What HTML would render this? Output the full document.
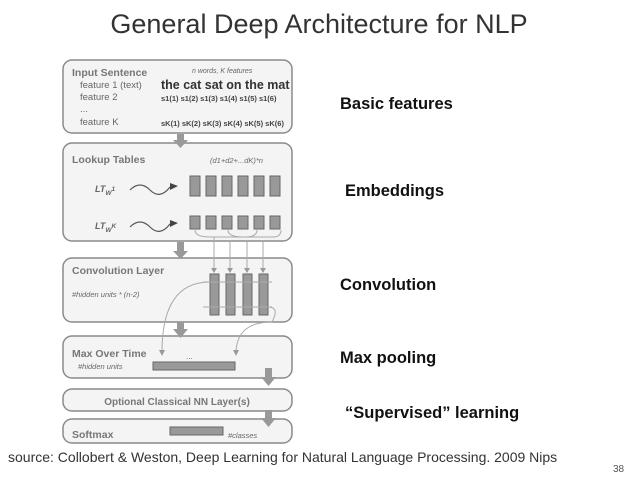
<!DOCTYPE html>
<html><head><style>
body{margin:0;width:638px;height:479px;background:#fff;overflow:hidden;font-family:"Liberation Sans",sans-serif}
</style></head><body>
<svg width="638" height="479" xmlns="http://www.w3.org/2000/svg" font-family="Liberation Sans, sans-serif">
<text x="319" y="33" font-size="27" text-anchor="middle" fill="#333">General Deep Architecture for NLP</text>
<g fill="#f4f4f4" stroke="#8a8a8a" stroke-width="1.5">
<rect x="63" y="60" width="229" height="73" rx="9"/>
<rect x="63" y="143" width="229" height="98" rx="9"/>
<rect x="63" y="258" width="229" height="64" rx="9"/>
<rect x="63" y="336" width="229" height="42" rx="9"/>
<rect x="63" y="389" width="229" height="22" rx="9"/>
<rect x="63" y="419" width="229" height="24" rx="9"/>
</g>
<g fill="#999">
<rect x="177" y="134" width="7" height="7"/><polygon points="173,140 188,140 180.5,148"/>
<rect x="177" y="242" width="7" height="10"/><polygon points="173,251 188,251 180.5,259"/>
<rect x="177" y="322" width="7" height="8"/><polygon points="173,329 188,329 180.5,338"/>
<rect x="265" y="368" width="7" height="10"/><polygon points="261,377 276,377 268.5,386"/>
<rect x="265" y="410" width="7" height="10"/><polygon points="261,418 276,418 268.5,427"/>
</g>
<g fill="#777" font-weight="bold">
<text x="72" y="76" font-size="10.5">Input Sentence</text>
<text x="72" y="163" font-size="10.5">Lookup Tables</text>
<text x="72" y="274" font-size="10.5">Convolution Layer</text>
<text x="72" y="357" font-size="10.5">Max Over Time</text>
<text x="177" y="405" font-size="10" text-anchor="middle">Optional Classical NN Layer(s)</text>
<text x="72" y="438" font-size="10.5">Softmax</text>
</g>
<g fill="#666" font-size="9.5">
<text x="80" y="88">feature 1 (text)</text>
<text x="80" y="100">feature 2</text>
<text x="80" y="112">...</text>
<text x="80" y="125">feature K</text>
<text x="192" y="73" font-style="italic" font-size="7">n words, K features</text>
<text x="161" y="89" font-size="12.5" font-weight="bold" fill="#333">the cat sat on the mat</text>
<text x="161" y="101" font-size="7.5" font-weight="bold" fill="#444">s1(1) s1(2) s1(3) s1(4) s1(5) s1(6)</text>
<text x="161" y="126" font-size="7.5" font-weight="bold" fill="#444">sK(1) sK(2) sK(3) sK(4) sK(5) sK(6)</text>
<text x="210" y="163" font-style="italic" font-size="7.5">(d1+d2+...dK)*n</text>
<text x="95" y="192" font-style="italic" font-weight="bold" font-size="9">LT<tspan font-size="6.5" dy="3">W</tspan><tspan font-size="6.5" dy="-4">1</tspan></text>
<text x="95" y="229" font-style="italic" font-weight="bold" font-size="9">LT<tspan font-size="6.5" dy="3">W</tspan><tspan font-size="6.5" dy="-4">K</tspan></text>
<text x="72" y="297" font-style="italic" font-size="7.5">#hidden units * (n-2)</text>
<text x="78" y="369" font-style="italic" font-size="7.5">#hidden units</text>
<text x="228" y="438" font-style="italic" font-size="7.5">#classes</text>
<text x="186" y="359" font-size="8">...</text>
</g>
<g fill="none" stroke="#555" stroke-width="1.2">
<path d="M130,190 q10,-10 20,0 t20,-3"/><path d="M130,227 q10,-10 20,0 t20,-3"/>
</g>
<g fill="#444"><polygon points="170,183 178,186 170,190"/><polygon points="170,220 178,223 170,227"/></g>
<g fill="#999" stroke="#666" stroke-width="1">
<rect x="190" y="176" width="10" height="20"/><rect x="206" y="176" width="10" height="20"/><rect x="222" y="176" width="10" height="20"/><rect x="238" y="176" width="10" height="20"/><rect x="254" y="176" width="10" height="20"/><rect x="270" y="176" width="10" height="20"/>
<rect x="190" y="216" width="10" height="13"/><rect x="206" y="216" width="10" height="13"/><rect x="222" y="216" width="10" height="13"/><rect x="238" y="216" width="10" height="13"/><rect x="254" y="216" width="10" height="13"/><rect x="270" y="216" width="10" height="13"/>
<rect x="210" y="274" width="9" height="41"/><rect x="226" y="274" width="9" height="41"/><rect x="243" y="274" width="9" height="41"/><rect x="259" y="274" width="9" height="41"/>
<rect x="153" y="362" width="82" height="8"/>
<rect x="170" y="427" width="53" height="8"/>
</g>
<g fill="none" stroke="#aaa" stroke-width="1">
<path d="M195,230 q0,7 15,7 h35 q12,0 12,-7"/><path d="M228,230 q0,7 15,7 h30 q8,0 8,-7"/>
<line x1="214" y1="237" x2="214" y2="270"/><line x1="230" y1="240" x2="230" y2="270"/><line x1="247" y1="240" x2="247" y2="270"/><line x1="263" y1="240" x2="263" y2="270"/>
<line x1="203" y1="282" x2="272" y2="282"/><line x1="203" y1="307" x2="272" y2="307"/>
<path d="M210,282 q-48,0 -48,70"/><path d="M268,307 q12,0 4,15 q-35,0 -36,30"/>
</g>
<g fill="#999"><polygon points="211,268 217,268 214,273"/><polygon points="227,268 233,268 230,273"/><polygon points="244,268 250,268 247,273"/><polygon points="260,268 266,268 263,273"/><polygon points="159,350 165,350 162,356"/><polygon points="233,350 239,350 236,356"/></g>
<g font-weight="bold" font-size="16.5" fill="#111">
<text x="340" y="109">Basic features</text>
<text x="345" y="196">Embeddings</text>
<text x="340" y="290">Convolution</text>
<text x="340" y="363">Max pooling</text>
<text x="345" y="418">“Supervised” learning</text>
</g>
<text x="8" y="462" font-size="14" fill="#333">source: Collobert &amp; Weston, Deep Learning for  Natural Language Processing. 2009 Nips</text>
<text x="613" y="472" font-size="10" fill="#555">38</text>
</svg>
</body></html>
